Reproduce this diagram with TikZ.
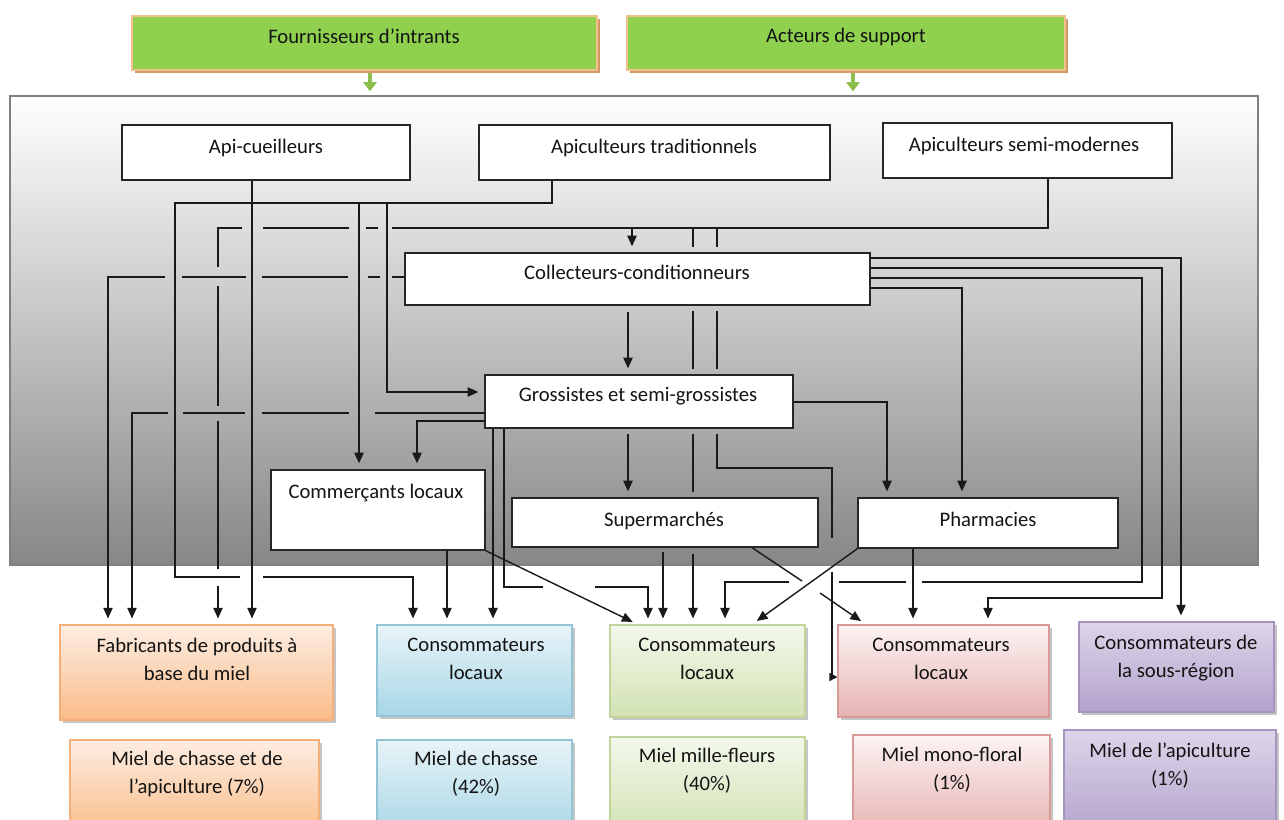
\documentclass[tikz,border=0pt]{standalone}
\usepackage{fontspec}
\setmainfont{Carlito}
\usetikzlibrary{arrows.meta,fit,shadows}
\pgfdeclarelayer{bg}
\pgfdeclarelayer{lines}
\pgfsetlayers{bg,lines,main}
\definecolor{gfill}{HTML}{8FD14F}
\definecolor{gbord}{HTML}{F2C08E}
\definecolor{gshad}{HTML}{CF9A66}
\definecolor{garrow}{HTML}{8DBE4E}
\definecolor{chainbot}{HTML}{878787}
\definecolor{ortop}{HTML}{FDEDE2}
\definecolor{orbot}{HTML}{F9BC88}
\definecolor{orbd}{HTML}{F3B07A}
\definecolor{bltop}{HTML}{E8F4F8}
\definecolor{blbot}{HTML}{A7D6E6}
\definecolor{blbd}{HTML}{93C4D6}
\definecolor{grtop}{HTML}{F4F8EC}
\definecolor{grbot}{HTML}{D1E2B2}
\definecolor{grbd}{HTML}{C0D59A}
\definecolor{pktop}{HTML}{FCF3F3}
\definecolor{pkbot}{HTML}{E6B3B2}
\definecolor{pkbd}{HTML}{D99A98}
\definecolor{pptop}{HTML}{DDD5E9}
\definecolor{ppbot}{HTML}{B3A3CC}
\definecolor{ppbd}{HTML}{A593C2}
\begin{document}
\begin{tikzpicture}[x=0.75pt,y=-0.75pt,
  font=\fontsize{15.5}{21}\selectfont,
  box/.style={draw=black!85, fill=white, line width=1pt, inner sep=0pt},
  greenbox/.style={draw=gbord, fill=gfill, line width=0.8pt, inner sep=0pt,
    drop shadow={shadow xshift=2.5pt, shadow yshift=-2.5pt, fill=gshad, opacity=1}},
  chainbox/.style={draw=black!50, line width=0.9pt, inner sep=0pt, top color=white, bottom color=chainbot},
  colbox/.style n args={3}{draw=#3, line width=0.8pt, inner sep=0pt, top color=#1, bottom color=#2,
    drop shadow={shadow xshift=2pt, shadow yshift=-2pt, fill=black!45, opacity=0.5}},
  txt/.style={align=center, inner sep=0pt, text=black!92},
  txtone/.style={txt, text height=10pt, text depth=1pt},
  conn/.style={line width=1.05pt, draw=black!90},
  arr/.style={conn, -{Triangle[length=8pt,width=7pt]}, shorten >=4.5pt},
  garr/.style={line width=2.4pt, draw=garrow, -{Triangle[length=7pt,width=10pt]}, shorten >=3pt, shorten <=1.5pt},
]
\useasboundingbox (0,0) rectangle (1284,819);

% ---------- boxes ----------
\node[greenbox, fit={(132,16) (597,70)}] (four) {};
\node[txtone] (t-four) at (364,37) {Fournisseurs d’intrants};
\node[greenbox, fit={(627,16) (1065,70)}] (act) {};
\node[txtone] (t-act) at (846,36) {Acteurs de support};

\begin{pgfonlayer}{bg}
\node[chainbox, fit={(10,96) (1258,565)}] (chain) {};
\end{pgfonlayer}

\node[box, fit={(122,125) (410,180)}] (api) {};
\node[txtone] (t-api) at (266,147) {Api-cueilleurs};
\node[box, fit={(479,125) (830,180)}] (trad) {};
\node[txtone] (t-trad) at (654,147) {Apiculteurs traditionnels};
\node[box, fit={(883,123) (1172,178)}] (semi) {};
\node[txtone] (t-semi) at (1024,145) {Apiculteurs semi-modernes};
\node[box, fit={(405,253) (870,305)}] (coll) {};
\node[txtone] (t-coll) at (637,273) {Collecteurs-conditionneurs};
\node[box, fit={(485,375) (793,428)}] (gros) {};
\node[txtone] (t-gros) at (638,395) {Grossistes et semi-grossistes};
\node[box, fit={(271,470) (485,550)}] (comm) {};
\node[txtone] (t-comm) at (376,492) {Commerçants locaux};
\node[box, fit={(512,498) (818,547)}] (super) {};
\node[txtone] (t-super) at (664,520) {Supermarchés};
\node[box, fit={(858,498) (1118,548)}] (pharm) {};
\node[txtone] (t-pharm) at (988,520) {Pharmacies};

\node[colbox={ortop}{orbot}{orbd}, fit={(60,625) (333,720)}] (fab) {};
\node[txt] (t-fab) at (197,659) {Fabricants de produits à\\base du miel};
\node[colbox={bltop}{blbot}{blbd}, fit={(377,625) (572,716)}] (cl1) {};
\node[txt] (t-cl1) at (476,659) {Consommateurs\\locaux};
\node[colbox={grtop}{grbot}{grbd}, fit={(610,625) (805,717)}] (cl2) {};
\node[txt] (t-cl2) at (707,659) {Consommateurs\\locaux};
\node[colbox={pktop}{pkbot}{pkbd}, fit={(838,625) (1049,717)}] (cl3) {};
\node[txt] (t-cl3) at (941,659) {Consommateurs\\locaux};
\node[colbox={pptop}{ppbot}{ppbd}, fit={(1079,622) (1274,712)}] (csr) {};
\node[txt] (t-csr) at (1176,658) {Consommateurs de\\la sous-région};

\begin{scope}
\clip (0,0) rectangle (1284,819);
\node[colbox={ortop}{orbot}{orbd}, fit={(70,740) (319,835)}] (m1) {};
\node[colbox={bltop}{blbot}{blbd}, fit={(377,740) (572,835)}] (m2) {};
\node[colbox={grtop}{grbot}{grbd}, fit={(610,737) (805,835)}] (m3) {};
\node[colbox={pktop}{pkbot}{pkbd}, fit={(853,735) (1050,835)}] (m4) {};
\node[colbox={pptop}{ppbot}{ppbd}, fit={(1064,730) (1276,835)}] (m5) {};
\end{scope}
\node[txt] (t-m1) at (197,774) {Miel de chasse et de\\l’apiculture (7\%)};
\node[txt] (t-m2) at (476,774) {Miel de chasse\\(42\%)};
\node[txt] (t-m3) at (707,771) {Miel mille-fleurs\\(40\%)};
\node[txt] (t-m4) at (952,770) {Miel mono-floral\\(1\%)};
\node[txt] (t-m5) at (1170,766) {Miel de l’apiculture\\(1\%)};

% ---------- connectors ----------
\begin{pgfonlayer}{lines}
\draw[garr] (four.south -| 370,0) -- (chain.north -| 370,0);
\draw[garr] (act.south -| 853,0) -- (chain.north -| 853,0);

% Api-cueilleurs
\draw[arr] (api.south -| 252,0) -- (fab.north -| 252,0);

% Apiculteurs traditionnels
\draw[arr] (trad.south -| 552,0) -- (552,203) -- (175,203) -- (175,577) -- (240,577)
  (263,577) -- (413,577) -- (cl1.north -| 413,0);
\draw[arr] (359,203) -- (comm.north -| 359,0);
\draw[arr] (387,203) -- (387,392) -- (gros.west |- 0,392);

% Apiculteurs semi-modernes
\draw[arr] (semi.south -| 1048,0) -- (1048,228) -- (392,228)
  (378,228) -- (366,228) (349,228) -- (263,228)
  (242,228) -- (218,228) -- (218,267)
  (218,286) -- (218,406) (218,421) -- (218,569)
  (218,586) -- (fab.north -| 218,0);
\draw[arr] (632,228) -- (coll.north -| 632,0);
\draw[arr] (693,228) -- (693,247) (693,311) -- (693,369) (693,434) -- (693,492)
  (693,554) -- (cl2.north -| 693,0);
\draw[conn, -{Triangle[length=6pt,width=6pt]}] (717,228) -- (717,247) (717,311) -- (717,369)
  (717,434) -- (717,468) -- (832,468) -- (832,538)
  (832,572) -- (832,677) -- (cl3.west |- 0,677);

% Collecteurs-conditionneurs
\draw[arr] (coll.west |- 0,277) -- (392,277) (380,277) -- (368,277)
  (348,277) -- (262,277) (246,277) -- (182,277)
  (165,277) -- (108,277) -- (fab.north -| 108,0);
\draw[arr, shorten <=5pt] (coll.south -| 628,0) -- (gros.north -| 628,0);
\draw[arr] (coll.east |- 0,258) -- (1181,258) -- (csr.north -| 1181,0);
\draw[arr] (coll.east |- 0,268) -- (1162,268) -- (1162,598) -- (988,598) -- (cl3.north -| 988,0);
\draw[arr] (coll.east |- 0,278) -- (1142,278) -- (1142,582) -- (922,582)
  (906,582) -- (839,582) (789,582) -- (725,582) -- (cl2.north -| 725,0);
\draw[arr] (coll.east |- 0,288) -- (962,288) -- (pharm.north -| 962,0);

% Grossistes et semi-grossistes
\draw[arr] (gros.west |- 0,413) -- (375,413) (349,413) -- (262,413)
  (245,413) -- (183,413) (168,413) -- (132,413) -- (fab.north -| 132,0);
\draw[arr] (gros.west |- 0,421) -- (417,421) -- (comm.north -| 417,0);
\draw[arr] (gros.south -| 493,0) -- (cl1.north -| 493,0);
\draw[arr] (gros.south -| 504,0) -- (504,587) -- (543,587)
  (595,587) -- (648,587) -- (cl2.north -| 648,0);
\draw[arr, shorten <=4pt] (gros.south -| 628,0) -- (super.north -| 628,0);
\draw[arr] (gros.east |- 0,402) -- (887,402) -- (pharm.north -| 887,0);

% Commercants locaux
\draw[arr] (comm.south -| 447,0) -- (cl1.north -| 447,0);
\draw[arr] (comm.south east) -- (cl2.north -| 638,0);

% Supermarches
\draw[arr, shorten <=3pt] (super.south -| 663,0) -- (cl2.north -| 663,0);
\draw[arr] (super.south -| 752,0) -- (802,581) (820,593) -- (cl3.north -| 866,0);

% Pharmacies
\draw[arr] (pharm.south -| 913,0) -- (cl3.north -| 913,0);
\draw[arr] (pharm.south west) -- (cl2.north -| 752,0);
\end{pgfonlayer}
\end{tikzpicture}
\end{document}
